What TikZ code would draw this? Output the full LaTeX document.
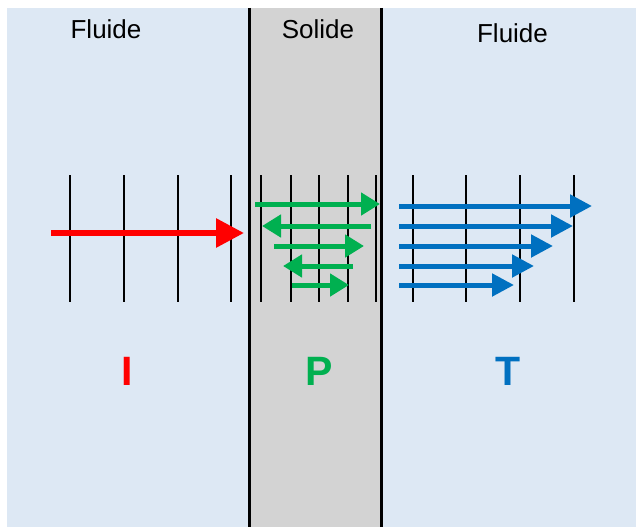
\documentclass[tikz,border=0pt]{standalone}
\usepackage{fontspec}
\setmainfont{Liberation Sans}
\usetikzlibrary{arrows.meta}
\definecolor{fluidbg}{HTML}{DDE8F4}
\definecolor{solidbg}{HTML}{D3D3D3}
\definecolor{incred}{HTML}{FF0000}
\definecolor{partgreen}{HTML}{00B050}
\definecolor{transblue}{HTML}{0070C0}
\tikzset{
  grid line/.style={line width=1.5pt, black},
  wall/.style={line width=3pt, black},
  title/.style={anchor=base, font=\fontsize{26}{30}\selectfont, inner sep=0pt},
  big letter/.style={anchor=base, font=\fontsize{41}{46}\selectfont\bfseries, inner sep=0pt},
  red arrow/.style={incred, line width=6pt, -{Triangle[length=28pt, width=28pt]}},
  green arrow/.style={partgreen, line width=5pt, -{Triangle[length=19pt, width=22pt]}},
  blue arrow/.style={transblue, line width=5pt, -{Triangle[length=22pt, width=22pt]}},
}
\begin{document}
\begin{tikzpicture}[x=1pt, y=-1pt]
\useasboundingbox (0,0) rectangle (636,527);
% regions
\fill[fluidbg] (7,8) rectangle (249,527);
\fill[solidbg] (249,8) rectangle (381,527);
\fill[fluidbg] (381,8) rectangle (636,527);
\draw[wall] (249,8) -- (249,527);
\draw[wall] (381,8) -- (381,527);
% titles
\node[title] (t1) at (106,39) {Fluide};
\node[title] (t2) at (318,39) {Solide};
\node[title] (t3) at (512.5,42) {Fluide};
% wavefront lines
\foreach \x in {70,124,178,231, 261,291,319,348,376, 413,466,520,574}
  \draw[grid line] (\x,175) -- (\x,302);
% incident wave
\coordinate (i0) at (51,233);
\coordinate (i1) at (244,233);
\draw[red arrow] (i0) -- (i1);
% waves bouncing inside the solid
\coordinate (g1a) at (255,204); \coordinate (g1b) at (380,204);
\coordinate (g2a) at (371,226); \coordinate (g2b) at (262,226);
\coordinate (g3a) at (274,246); \coordinate (g3b) at (364,246);
\coordinate (g4a) at (353,266); \coordinate (g4b) at (283,266);
\coordinate (g5a) at (292,285); \coordinate (g5b) at (349,285);
\draw[green arrow] (g1a) -- (g1b);
\draw[green arrow] (g2a) -- (g2b);
\draw[green arrow] (g3a) -- (g3b);
\draw[green arrow] (g4a) -- (g4b);
\draw[green arrow] (g5a) -- (g5b);
% transmitted waves
\coordinate (b1a) at (399,206); \coordinate (b1b) at (592,206);
\coordinate (b2a) at (399,226); \coordinate (b2b) at (573,226);
\coordinate (b3a) at (399,246); \coordinate (b3b) at (553,246);
\coordinate (b4a) at (399,266); \coordinate (b4b) at (534,266);
\coordinate (b5a) at (399,285); \coordinate (b5b) at (514,285);
\draw[blue arrow] (b1a) -- (b1b);
\draw[blue arrow] (b2a) -- (b2b);
\draw[blue arrow] (b3a) -- (b3b);
\draw[blue arrow] (b4a) -- (b4b);
\draw[blue arrow] (b5a) -- (b5b);
% region labels
\node[big letter, incred] (lI) at (127.5,385) {I};
\node[big letter, partgreen] (lP) at (319.5,385) {P};
\node[big letter, transblue] (lT) at (508,385) {T};
\end{tikzpicture}
\end{document}
